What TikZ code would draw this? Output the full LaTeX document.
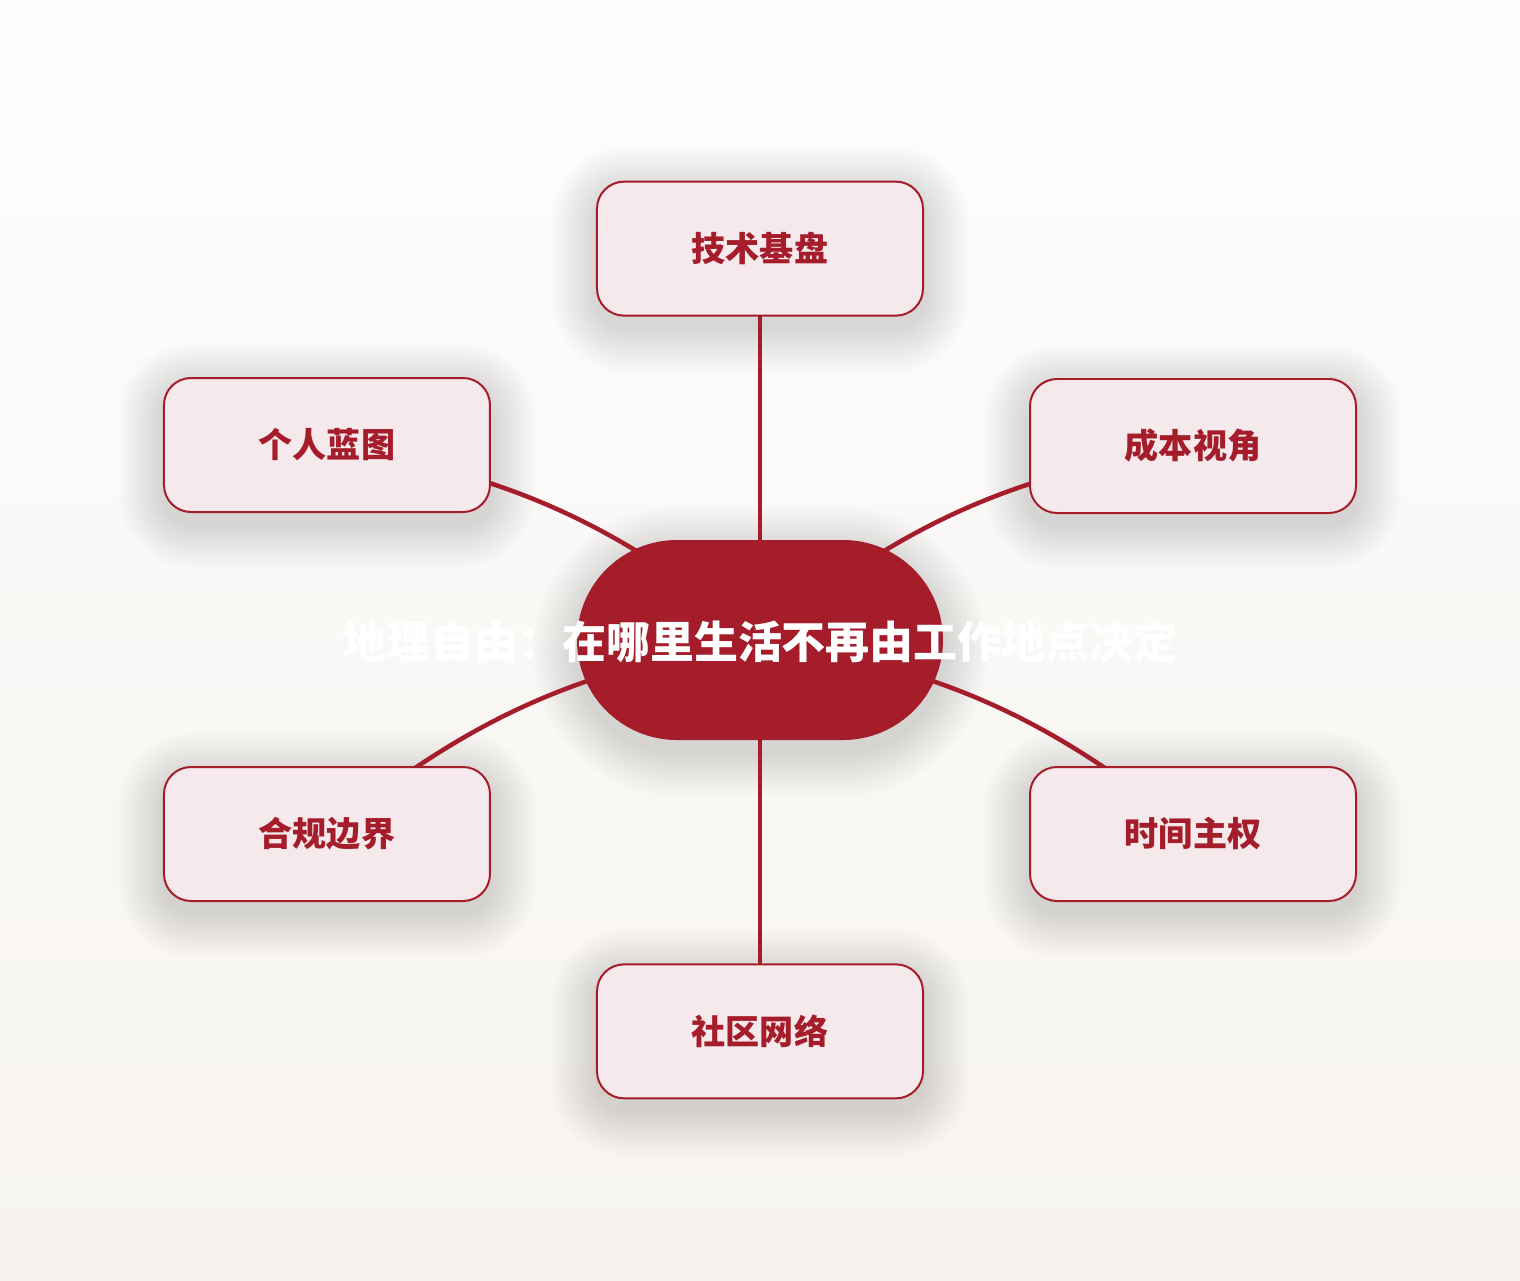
\documentclass[tikz,border=0pt]{standalone}
\usepackage{fontspec}
\setmainfont{Noto Sans CJK SC}
\usetikzlibrary{positioning,calc}
\definecolor{wine}{HTML}{A51C2B}
\definecolor{blush}{HTML}{F5E9EB}
\definecolor{paperA}{HTML}{FDFDFD}
\definecolor{paperB}{HTML}{F7F4EF}
\pgfdeclarelayer{back}\pgfdeclarelayer{shade}\pgfdeclarelayer{links}
\pgfsetlayers{back,shade,links,main}

\begin{document}
\begin{tikzpicture}[box/.style={rounded corners=0.54cm,draw=wine,line width=0.04cm,fill=blush,
minimum width=6.52cm,minimum height=2.68cm,text=wine,font=\bfseries\fontsize{19.4}{22}\selectfont},
hub/.style={rounded corners=2cm,fill=wine,minimum width=7.32cm,minimum height=4cm},
link/.style={draw=wine,line width=0.09cm,line cap=round}]
\useasboundingbox (-15.2,-12.8) rectangle (15.2,12.8);
\node[hub] (hub) at (0,0) {};
\node[text=white,font=\bfseries\fontsize{25}{28}\selectfont,yshift=-0.04cm] (title) at (hub) {地理自由：在哪里生活不再由工作地点决定};
\node[box,above=4.46cm of hub] (base) {技术基盘};
\node[box,below=4.46cm of hub] (net) {社区网络};
\node[box] (plan) at (-8.66,3.9) {个人蓝图};
\node[box] (cost) at (8.66,3.88) {成本视角};
\node[box] (rule) at (-8.66,-3.88) {合规边界};
\node[box] (time) at (8.66,-3.88) {时间主权};
\begin{pgfonlayer}{back}
\shade[top color=paperA,bottom color=paperB] (-15.2,-12.8) rectangle (15.2,12.8);
\end{pgfonlayer}
\begin{pgfonlayer}{shade}
\foreach \n/\r in {hub/2,base/0.6,net/0.6,plan/0.6,cost/0.6,rule/0.6,time/0.6}
 \foreach \k in {1,...,18}
  \fill[black,opacity=0.009,rounded corners=\r cm+\k*0.05cm] ($(\n.south west)+(-\k*0.05,-\k*0.05-0.22)$)
   rectangle ($(\n.north east)+(\k*0.05,\k*0.05-0.22)$);
\end{pgfonlayer}
\begin{pgfonlayer}{links}
\draw[link] (hub.center) -- (base.center);
\draw[link] (hub.center) -- (net.center);
\draw[link] (hub.center) to[bend right=15] (plan.center);
\draw[link] (hub.center) to[bend left=15] (cost.center);
\draw[link] (hub.center) to[bend right=15] (rule.center);
\draw[link] (hub.center) to[bend left=15] (time.center);
\end{pgfonlayer}
\end{tikzpicture}
\end{document}
